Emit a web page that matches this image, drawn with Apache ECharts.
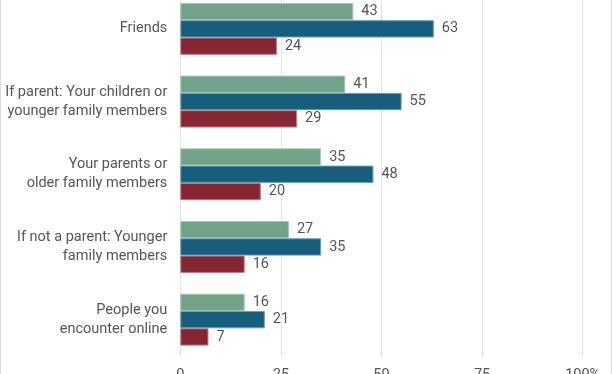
<!DOCTYPE html>
<html>
<head>
<meta charset="utf-8">
<script src="https://cdn.jsdelivr.net/npm/echarts@6/dist/echarts.min.js"></script>
<style>html,body{margin:0;padding:0;background:#fff;overflow:hidden}#c{width:612px;height:374px}</style>
</head>
<body>
<div id="c"></div>
<script>
const categories = [
  'Friends',
  'If parent: Your children or\nyounger family members',
  'Your parents or\nolder family members',
  'If not a parent: Younger\nfamily members',
  'People you\nencounter online'
];
const seriesGreen = [43, 41, 35, 27, 16];
const seriesBlue = [63, 55, 48, 35, 21];
const seriesRed = [24, 29, 20, 16, 7];
const tickLabels = {0: '0', 25: '25', 50: '50', 75: '75', 100: '100%'};

const chart = echarts.init(document.getElementById('c'), null, {renderer: 'canvas'});
const txt = '#555555';
function mk(data, color, border) {
  return {
    type: 'bar', data: data, barWidth: 17.3, barGap: '0%',
    itemStyle: {color: color, borderColor: border, borderWidth: 1},
    label: {show: true, position: 'right', distance: 8, color: txt,
      fontFamily: 'Roboto', fontSize: 14.5},
    emphasis: {disabled: true}, animation: false
  };
}
chart.setOption({
  animation: false,
  grid: {left: 180.3, right: 29.3, top: -7.5, bottom: 18, containLabel: false, outerBoundsMode: 'none'},
  xAxis: {
    type: 'value', min: 0, max: 100, interval: 25,
    axisLine: {show: false}, axisTick: {show: false},
    splitLine: {show: true, lineStyle: {color: '#e3e3e3', width: 1}},
    axisLabel: {color: txt, fontFamily: 'Roboto', fontSize: 14.5, margin: 12,
      formatter: v => tickLabels[v] !== undefined ? tickLabels[v] : ''}
  },
  yAxis: {
    type: 'category', data: categories, inverse: true,
    axisLine: {show: false}, axisTick: {show: false},
    axisLabel: {color: txt, fontFamily: 'Roboto', fontSize: 14.5, lineHeight: 19, margin: 13, align: 'right'}
  },
  graphic: [
    {type: 'line', shape: {x1: 0.5, y1: 0, x2: 0.5, y2: 374}, style: {stroke: '#dcdcdc', lineWidth: 1}},
    {type: 'line', shape: {x1: 611.5, y1: 0, x2: 611.5, y2: 374}, style: {stroke: '#dcdcdc', lineWidth: 1}}
  ],
  series: [
    mk(seriesGreen, '#70a388', '#a9c8b6'),
    mk(seriesBlue, '#175e7d', '#6d9bb0'),
    mk(seriesRed, '#862633', '#b87a83')
  ]
});
</script>
</body>
</html>
